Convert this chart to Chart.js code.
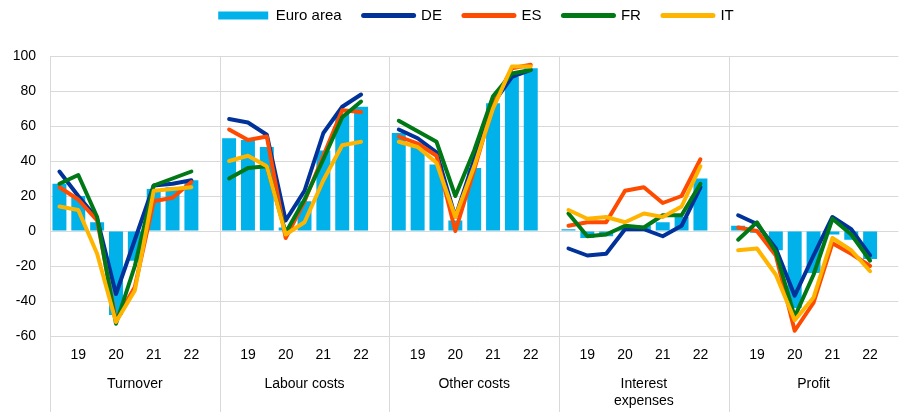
<!DOCTYPE html>
<html>
<head>
<meta charset="utf-8">
<script src="https://cdn.jsdelivr.net/npm/chart.js@4.4.1/dist/chart.umd.min.js"></script>
<style>
  html, body { margin: 0; padding: 0; background: #fff; }
  #wrap { width: 902px; height: 412px; }
</style>
</head>
<body>
<div id="wrap"><canvas id="myChart"></canvas></div>
<script>
// half-year observations 2019H1 .. 2022H2 for each indicator
const groups = ['Turnover', 'Labour costs', 'Other costs', ['Interest', 'expenses'], 'Profit'];
const yearTicks = ['', '19', '', '20', '', '21', '', '22'];

const euroArea = [
  [27, 20, 5, -48, -17, 24, 25, 29],
  [53, 52, 48, 2, 17, 46, 67, 71],
  [56, 50, 38, 6, 36, 73, 88, 93],
  [1, -4, -3, 2, 3, 5, 8, 30],
  [3, -1, -11, -44, -24, -2, -5, -16]
];
const de = [
  [34, 20, 7, -36, -5, 26, 27, 29],
  [64, 62, 55, 6, 23, 56, 71, 78],
  [58, 53, 45, 8, 41, 73, 88, 92],
  [-10, -14, -13, 1, 1, -3, 3, 25],
  [9, 4, -10, -37, -14, 8, 1, -14]
];
const es = [
  [25, 18, 6, -51, -32, 17, 19, 28],
  [58, 52, 54, -4, 17, 43, 69, 68],
  [54, 50, 43, 0, 35, 72, 93, 95],
  [3, 5, 5, 23, 25, 16, 20, 41],
  [2, 0, -14, -57, -41, -7, -13, -20]
];
const fr = [
  [27, 32, 8, -53, -20, 26, 30, 34],
  [30, 36, 37, -1, 18, 41, 65, 74],
  [63, 57, 51, 20, 46, 77, 90, 92],
  [10, -3, -2, 3, 2, 9, 9, 27],
  [-5, 5, -12, -49, -25, 7, -2, -17]
];
const it = [
  [14, 12, -13, -52, -34, 23, 24, 25],
  [40, 43, 37, -2, 5, 29, 49, 51],
  [51, 48, 39, 8, 37, 70, 94, 94],
  [12, 7, 8, 5, 10, 8, 14, 37],
  [-11, -10, -25, -51, -38, -4, -11, -23]
];

// one empty slot after every panel
const perGroup = yearTicks.length + 1;
const labels = [];
const groupLabels = [];
groups.forEach((g) => {
  yearTicks.forEach((t, i) => {
    labels.push(t);
    groupLabels.push(i === 4 ? g : '');
  });
  labels.push('');
  groupLabels.push('');
});
const flat = (rows) => rows.flatMap((r) => [...r, null]);

const lineSet = (label, rows, color, order) => ({
  type: 'line',
  label: label,
  data: flat(rows),
  borderColor: color,
  backgroundColor: color,
  borderWidth: 4,
  pointRadius: 0,
  borderCapStyle: 'round',
  borderJoinStyle: 'round',
  order: order
});

// vertical separators between the panels, through the axis area
const panelLines = {
  id: 'panelLines',
  beforeDatasetsDraw(chart) {
    const { ctx, chartArea, scales } = chart;
    const x = scales.x;
    const slot = (x.right - x.left) / labels.length;
    ctx.save();
    ctx.strokeStyle = '#d9d9d9';
    ctx.lineWidth = 1;
    for (let k = 0; k < groups.length; k++) {
      const px = Math.round(x.left + slot * perGroup * k) + 0.5;
      ctx.beginPath();
      ctx.moveTo(px, chartArea.top);
      ctx.lineTo(px, chart.height);
      ctx.stroke();
    }
    ctx.restore();
  }
};

// legend is centred over the plot area and sits close to the top edge
const placeLegend = {
  id: 'placeLegend',
  afterLayout(chart) {
    const lg = chart.legend;
    const h = lg.bottom - lg.top;
    lg.left = chart.chartArea.left;
    lg.top = -14;
    lg.bottom = lg.top + h;
  }
};

Chart.defaults.font.family = '"Liberation Sans", Arial, sans-serif';
Chart.defaults.color = '#000';

const ctx = document.getElementById('myChart').getContext('2d');

const data = {
  labels: labels,
  datasets: [
    {
      type: 'bar',
      label: 'Euro area',
      data: flat(euroArea),
      backgroundColor: '#00B1EA',
      barPercentage: 0.74,
      categoryPercentage: 1,
      order: 5
    },
    lineSet('DE', de, '#003299', 4),
    lineSet('ES', es, '#FF4B00', 3),
    lineSet('FR', fr, '#007816', 2),
    lineSet('IT', it, '#FFB400', 1)
  ]
};

const config = {
  data: data,
  plugins: [panelLines, placeLegend],
  options: {
    responsive: true,
    maintainAspectRatio: false,
    animation: false,
    layout: { padding: { left: 0, right: 0, top: 9, bottom: 0 } },
    plugins: {
      tooltip: { enabled: false },
      legend: {
        position: 'top',
        labels: {
          font: { size: 15 },
          color: '#000',
          usePointStyle: true,
          pointStyleWidth: 50,
          boxHeight: 8,
          padding: 22,
          sort: (a, b) => a.datasetIndex - b.datasetIndex,
          generateLabels: (chart) => chart.data.datasets.map((ds, i) => ({
            text: ds.label,
            datasetIndex: i,
            fillStyle: ds.backgroundColor,
            strokeStyle: ds.backgroundColor,
            lineWidth: ds.type === 'line' ? 5 : 0,
            lineCap: 'round',
            pointStyle: ds.type === 'line' ? 'line' : 'rect',
            fontColor: '#000',
            hidden: false
          }))
        }
      }
    },
    scales: {
      x: {
        weight: 0,
        ticks: { autoSkip: false, maxRotation: 0, padding: 11, font: { size: 14 } },
        grid: { display: false, drawTicks: false },
        border: { display: false },
        afterFit: (scale) => { scale.height = 27; }
      },
      x2: {
        type: 'category',
        position: 'bottom',
        weight: 1,
        offset: true,
        labels: groupLabels,
        ticks: { autoSkip: false, maxRotation: 0, padding: 13, font: { size: 14 } },
        grid: { display: false, drawTicks: false },
        border: { display: false },
        afterFit: (scale) => { scale.height = 49; }
      },
      y: {
        min: -60,
        max: 100,
        ticks: { stepSize: 20, padding: 14, font: { size: 14 } },
        grid: { color: '#d9d9d9', drawTicks: false },
        border: { display: false },
        afterFit: (scale) => { scale.width = 50; }
      }
    }
  }
};

const myChart = new Chart(ctx, config);
</script>
</body>
</html>
